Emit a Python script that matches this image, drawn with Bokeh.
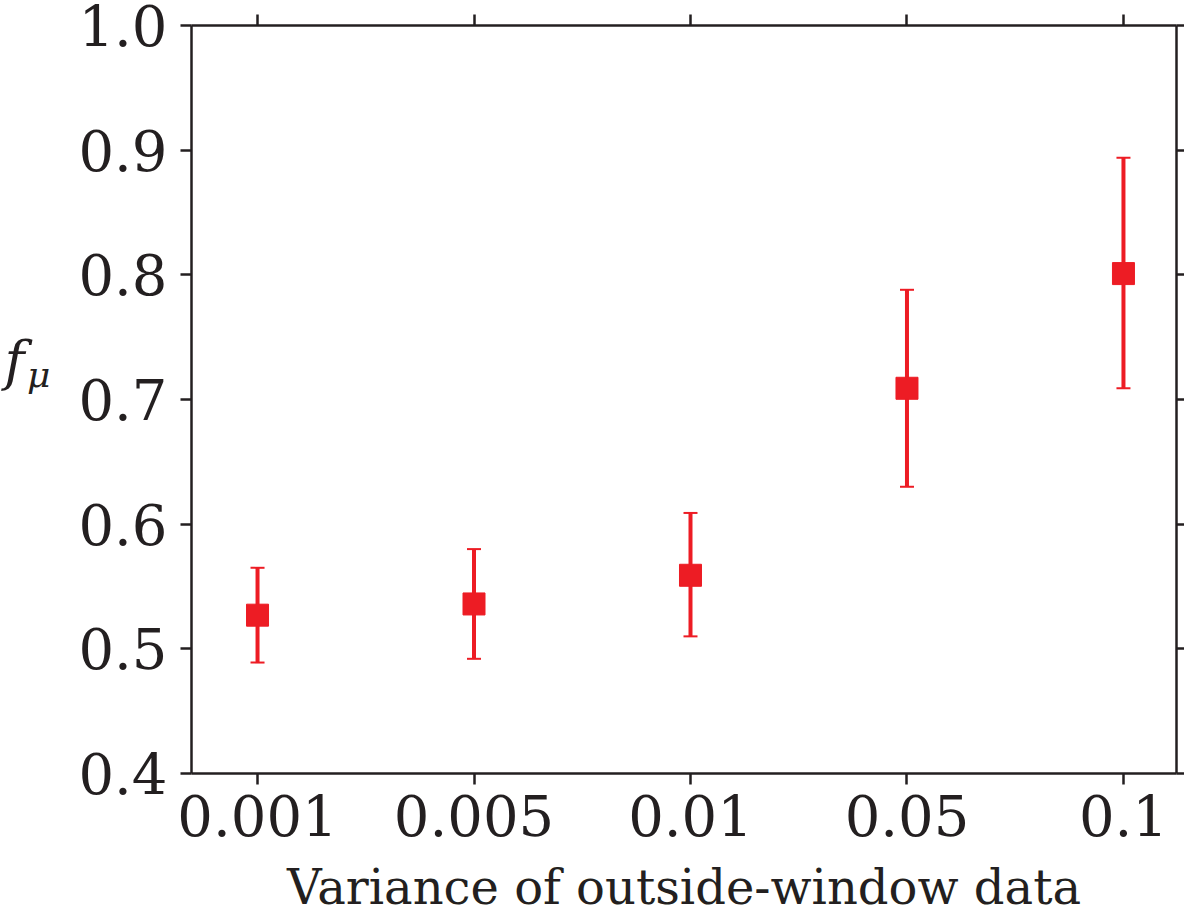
from bokeh.plotting import figure
from bokeh.models import (Range1d, FixedTicker, LinearAxis, Whisker, TeeHead,
                          ColumnDataSource)
from bokeh.embed import file_html
from bokeh.resources import INLINE

# data
categories = ["0.001", "0.005", "0.01", "0.05", "0.1"]
f_mu = [0.527, 0.536, 0.559, 0.709, 0.801]
f_lower = [0.489, 0.492, 0.510, 0.630, 0.709]
f_upper = [0.565, 0.580, 0.609, 0.788, 0.894]
y_ticks = [0.4, 0.5, 0.6, 0.7, 0.8, 0.9, 1.0]

xs = list(range(len(categories)))
src = ColumnDataSource(dict(x=xs, y=f_mu, lower=f_lower, upper=f_upper))

FONT = "DejaVu Serif"
AX = "#231f20"
RED = "#ed1c24"

p = figure(frame_width=985, frame_height=748, output_backend="svg",
           toolbar_location=None, x_range=Range1d(-0.305, 4.245),
           y_range=Range1d(0.4, 1.0), x_axis_location=None, y_axis_location=None,
           min_border_left=191, min_border_right=0, min_border_top=25,
           min_border_bottom=0)
p.grid.visible = False
p.outline_line_color = None
p.background_fill_color = "white"

def style(ax, labels=True):
    ax.axis_line_color = AX
    ax.axis_line_width = 2.5
    ax.major_tick_line_color = AX
    ax.major_tick_line_width = 2.5
    ax.major_tick_out = 11
    ax.major_tick_in = 0
    ax.minor_tick_line_color = None
    ax.major_label_text_font = FONT
    ax.major_label_text_font_size = "56px"
    ax.major_label_text_color = AX
    ax.axis_label_text_font = FONT
    ax.axis_label_text_font_style = "normal"
    ax.axis_label_text_color = AX
    if not labels:
        ax.major_label_text_font_size = "0px"
        ax.major_label_text_color = None
        ax.major_label_standoff = 0

xticker = FixedTicker(ticks=xs)
yticker = FixedTicker(ticks=y_ticks)

bottom = LinearAxis(ticker=xticker, axis_label="Variance of outside-window data")
bottom.major_label_overrides = {i: c for i, c in enumerate(categories)}
style(bottom)
bottom.axis_label_text_font_size = "48px"
bottom.major_label_standoff = 10
bottom.axis_label_standoff = 20
p.add_layout(bottom, "below")

left = LinearAxis(ticker=yticker)
left.major_label_overrides = {t: f"{t:.1f}" for t in y_ticks}
style(left)
left.major_label_standoff = 13
p.add_layout(left, "left")

# y-axis label "f_mu": italic f with a subscript mu, as two horizontal labels
def label_axis(text, size, standoff):
    ax = LinearAxis(ticker=FixedTicker(ticks=[]), axis_label=text)
    ax.axis_line_color = None
    ax.major_tick_line_color = None
    ax.minor_tick_line_color = None
    ax.major_label_text_font_size = "0px"
    ax.major_label_standoff = 0
    ax.major_tick_out = 0
    ax.axis_label_orientation = "horizontal"
    ax.axis_label_text_font = FONT
    ax.axis_label_text_font_style = "italic"
    ax.axis_label_text_font_size = size
    ax.axis_label_text_color = AX
    ax.axis_label_standoff = standoff
    return ax

p.add_layout(label_axis("μ\n\u00a0", "36px", 25), "left")
p.add_layout(label_axis("f\n\u00a0", "54px", 0), "left")

top = LinearAxis(ticker=xticker)
style(top, labels=False)
top.major_label_overrides = {i: "" for i in xs}
p.add_layout(top, "above")

right = LinearAxis(ticker=yticker)
style(right, labels=False)
right.major_tick_out = 8
right.major_label_overrides = {t: "" for t in y_ticks}
p.add_layout(right, "right")

w = Whisker(source=src, base="x", lower="lower", upper="upper",
            line_color=RED, line_width=4,
            upper_head=TeeHead(size=14, line_color=RED, line_width=2),
            lower_head=TeeHead(size=14, line_color=RED, line_width=2))
p.add_layout(w)

p.scatter("x", "y", source=src, marker="square", size=22,
          fill_color=RED, line_color=RED, line_width=1)

open("out.html", "w").write(file_html(p, INLINE))
